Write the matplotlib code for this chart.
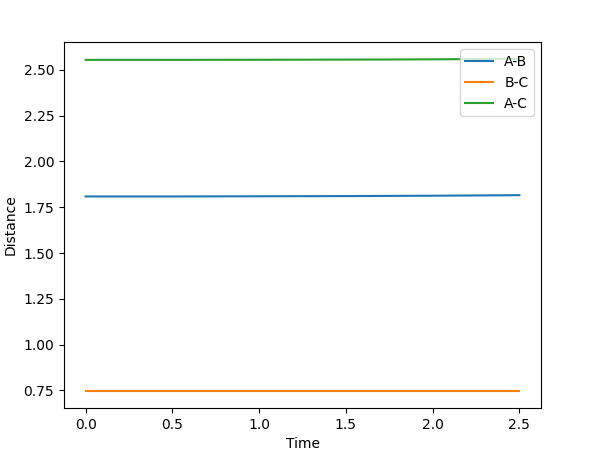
import numpy as np
import matplotlib

matplotlib.use("Agg")
import matplotlib.pyplot as plt

# values
time = [0.0, 0.25, 0.5, 0.75, 1.0, 1.25, 1.5, 1.75, 2.0, 2.25, 2.5]
dist_ab = [1.809, 1.809, 1.809, 1.8095, 1.810, 1.8105, 1.811, 1.812, 1.813, 1.8145, 1.816]
dist_bc = [0.744, 0.744, 0.744, 0.744, 0.744, 0.744, 0.744, 0.744, 0.744, 0.744, 0.744]
dist_ac = [2.555, 2.555, 2.555, 2.5553, 2.5556, 2.556, 2.5565, 2.557, 2.558, 2.5595, 2.561]

fig, ax = plt.subplots(figsize=(5.92, 4.58), dpi=100)
fig.subplots_adjust(left=0.108, right=0.914, top=0.908, bottom=0.109)
ax.plot(time, dist_ab, label="A-B")
ax.plot(time, dist_bc, label="B-C")
ax.plot(time, dist_ac, label="A-C")
ax.set_xlabel("Time")
ax.set_ylabel("Distance")
ax.legend(loc="upper right")
fig.savefig("out.png", dpi=100)
